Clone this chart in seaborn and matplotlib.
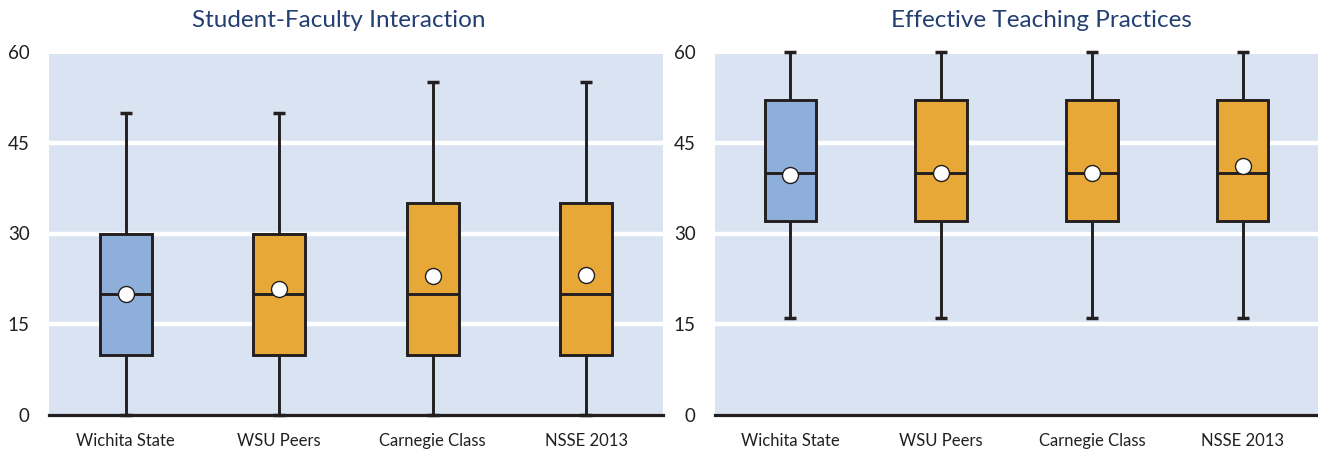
import numpy as np
import pandas as pd
import matplotlib
matplotlib.use("Agg")
import matplotlib.pyplot as plt
import seaborn as sns

# Groups compared in each panel
groups = ["Wichita State", "WSU Peers", "Carnegie Class", "NSSE 2013"]

# Student-Faculty Interaction: whisker low, Q1, median, Q3, whisker high, mean
sfi_low = [0, 0, 0, 0]
sfi_q1 = [10, 10, 10, 10]
sfi_median = [20, 20, 20, 20]
sfi_q3 = [30, 30, 35, 35]
sfi_high = [50, 50, 55, 55]
sfi_mean = [20.0, 20.8, 22.9, 23.2]

# Effective Teaching Practices
etp_low = [16, 16, 16, 16]
etp_q1 = [32, 32, 32, 32]
etp_median = [40, 40, 40, 40]
etp_q3 = [52, 52, 52, 52]
etp_high = [60, 60, 60, 60]
etp_mean = [39.7, 40.0, 40.0, 41.2]

y_ticks = [0, 15, 30, 45, 60]

BG = "#D9E3F2"
INK = "#231F20"
TITLE = "#243F72"
palette = ["#8FAFDB", "#E8A838", "#E8A838", "#E8A838"]

sns.set_theme(style="white")
plt.rcParams["font.family"] = ["Lato", "DejaVu Sans"]


def five_number_frame(low, q1, med, q3, high):
    # Five values per group reproduce the quartiles exactly; whiskers span min..max
    rows = []
    for g, vals in zip(groups, zip(low, q1, med, q3, high)):
        for v in vals:
            rows.append({"group": g, "value": v})
    return pd.DataFrame(rows)


def draw_panel(ax, df, means, title, title_x):
    ax.set_facecolor("none")
    ax.axhspan(0, 59.7, color=BG, zorder=0, lw=0)
    for y in y_ticks[1:-1]:
        ax.axhline(y, color="white", lw=3.2, zorder=0.5)

    sns.boxplot(
        data=df, x="group", y="value", hue="group", order=groups,
        hue_order=groups, palette=palette, legend=False, width=0.34,
        whis=(0, 100), linewidth=2.1, linecolor=INK, saturation=1,
        ax=ax,
    )
    # narrow whisker caps
    for line in ax.lines:
        xd = np.asarray(line.get_xdata(), dtype=float)
        yd = np.asarray(line.get_ydata(), dtype=float)
        if len(xd) == 2 and yd[0] == yd[1] and abs(xd[1] - xd[0]) < 0.3:
            c = xd.mean()
            line.set_xdata([c - 0.04, c + 0.04])
            line.set_linewidth(2.5)
        line.set_solid_capstyle("butt")

    sns.stripplot(
        x=groups, y=means, order=groups, jitter=False, color="white",
        edgecolor=INK, linewidth=1.0, size=11.5, ax=ax, zorder=5,
    )

    for art in list(ax.lines) + list(ax.patches) + list(ax.collections):
        art.set_clip_on(False)

    ax.set_xlim(-0.5, 3.5)
    ax.set_ylim(0, 60)
    ax.set_yticks(y_ticks)
    ax.set_xlabel("")
    ax.set_ylabel("")
    ax.tick_params(axis="both", length=0)
    ax.tick_params(axis="y", pad=14, labelsize=13.5, labelcolor=INK)
    ax.tick_params(axis="x", pad=13, labelsize=12, labelcolor=INK)
    for side in ["top", "right", "left"]:
        ax.spines[side].set_visible(False)
    ax.spines["bottom"].set_color(INK)
    ax.spines["bottom"].set_linewidth(2.3)
    ax.spines["bottom"].set_zorder(6)
    ax.set_title(title, color=TITLE, fontsize=17.5, x=title_x, pad=18)


W, H = 1318, 451
fig = plt.figure(figsize=(W / 100, H / 100), dpi=100)
bottom = (H - 415) / H
height = (415 - 52) / H
ax1 = fig.add_axes([49 / W, bottom, (663 - 49) / W, height])
ax2 = fig.add_axes([715 / W, bottom, (1318 - 715) / W, height])

draw_panel(ax1, five_number_frame(sfi_low, sfi_q1, sfi_median, sfi_q3, sfi_high),
           sfi_mean, "Student-Faculty Interaction", 0.472)
draw_panel(ax2, five_number_frame(etp_low, etp_q1, etp_median, etp_q3, etp_high),
           etp_mean, "Effective Teaching Practices", 0.541)

fig.savefig("out.png", dpi=100)
